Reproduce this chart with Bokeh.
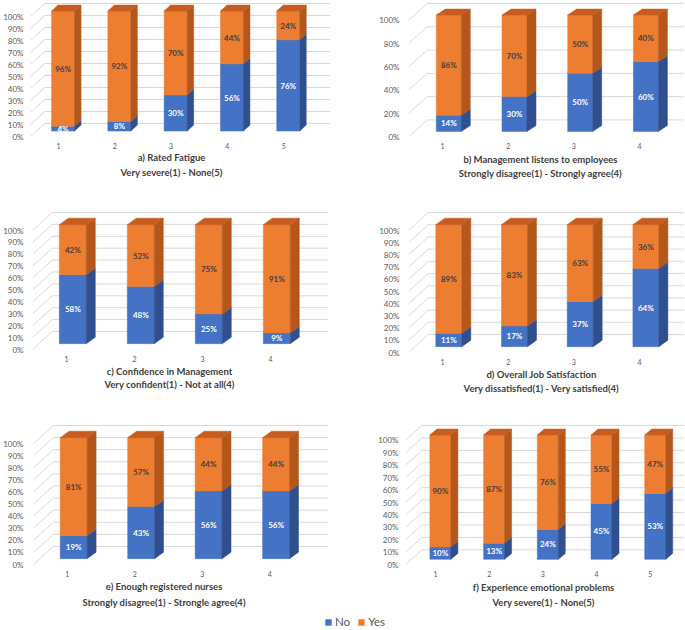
from bokeh.plotting import figure
from bokeh.models import (ColumnDataSource, FixedTicker, PrintfTickFormatter, Label,
                          Legend, LegendItem, Range1d)
from bokeh.layouts import column, row
from bokeh.embed import file_html
from bokeh.resources import INLINE
from bokeh.core.properties import value

# ---------------- data ----------------
series_names = ["No", "Yes"]

a_cats = [1, 2, 3, 4, 5]
a_no = [4, 8, 30, 56, 76]
a_yes = [96, 92, 70, 44, 24]
a_title = "a) Rated Fatigue"
a_sub = "Very severe(1) - None(5)"

b_cats = [1, 2, 3, 4]
b_no = [14, 30, 50, 60]
b_yes = [86, 70, 50, 40]
b_title = "b) Management listens to employees"
b_sub = "Strongly disagree(1) - Strongly agree(4)"

c_cats = [1, 2, 3, 4]
c_no = [58, 48, 25, 9]
c_yes = [42, 52, 75, 91]
c_title = "c) Confidence in Management"
c_sub = "Very confident(1) - Not at all(4)"

d_cats = [1, 2, 3, 4]
d_no = [11, 17, 37, 64]
d_yes = [89, 83, 63, 36]
d_title = "d) Overall Job Satisfaction"
d_sub = "Very dissatisfied(1) - Very satisfied(4)"

e_cats = [1, 2, 3, 4]
e_no = [19, 43, 56, 56]
e_yes = [81, 57, 44, 44]
e_title = "e) Enough registered nurses"
e_sub = "Strongly disagree(1) - Strongle agree(4)"

f_cats = [1, 2, 3, 4, 5]
f_no = [10, 13, 24, 45, 53]
f_yes = [90, 87, 76, 55, 47]
f_title = "f) Experience emotional problems"
f_sub = "Very severe(1) - None(5)"

y_ticks_10 = [0, 10, 20, 30, 40, 50, 60, 70, 80, 90, 100]
y_ticks_20 = [0, 20, 40, 60, 80, 100]

# ---------------- style ----------------
FONT = "Lato"
BLUE = "#4472C4"
BLUE_SIDE = "#2F4F8F"
ORANGE = "#ED7D31"
ORANGE_SIDE = "#B5561B"
ORANGE_TOP = "#C65D1E"
GRID = "#D9D9D9"
AXIS_TXT = "#595959"
TITLE_TXT = "#404040"

# geometry (pixel layout of each panel, in page pixels)
GEO = {
    "a": dict(origin=(0, 0), size=(334, 205), L=30, R=330, y0=136, y100=16, xl=58, sp=56.3,
              bw=23, bdx=6.5, bdy=6, fdy=13, ylr=23, tc=171, ty=157, sy=172),
    "b": dict(origin=(334, 0), size=(350, 205), L=408, R=684, y0=136, y100=19, xl=442, sp=65.7,
              bw=25, bdx=9, bdy=6, fdy=17, ylr=399, tc=540, ty=159, sy=173),
    "c": dict(origin=(0, 205), size=(334, 214), L=32, R=328, y0=349, y100=230, xl=66, sp=68,
              bw=27, bdx=9, bdy=6.5, fdy=18, ylr=23, tc=169, ty=371, sy=384),
    "d": dict(origin=(334, 205), size=(350, 214), L=408, R=684, y0=352, y100=230, xl=442, sp=65.7,
              bw=26, bdx=9, bdy=6.5, fdy=18, ylr=399, tc=541, ty=374, sy=388),
    "e": dict(origin=(0, 419), size=(334, 191), L=32, R=328, y0=564, y100=443, xl=66, sp=67.7,
              bw=27, bdx=9, bdy=6.5, fdy=18, ylr=22, tc=163, ty=586, sy=602),
    "f": dict(origin=(334, 419), size=(350, 191), L=405, R=684, y0=564, y100=439, xl=435, sp=53.7,
              bw=21, bdx=7, bdy=6, fdy=15, ylr=398, tc=543, ty=587, sy=602),
}


def panel(cats, no, yes, title, sub, yticks, g):
    ox, oy = g["origin"]
    fw, fh = g["size"]
    L = round(g["L"] - ox)
    R = round(min(g["R"] - ox, fw))
    y0 = g["y0"] - oy
    y100 = g["y100"] - oy
    k = (y0 - y100) / 100.0
    sp = g["sp"]
    xl = g["xl"] - ox
    fdy = g["fdy"]
    fdx = fdy * 1.1
    T = max(0, round(y100 - fdy - 2))
    B = fh
    y_start = -(B - y0) / k
    y_end = 100 + (y100 - T) / k
    x_start = 1 - (xl - L) / sp
    x_end = x_start + (R - L) / sp

    p = figure(width=fw, height=fh, x_range=Range1d(x_start, x_end),
               y_range=Range1d(y_start, y_end), output_backend="svg",
               toolbar_location=None, title=None,
               min_border_left=L, min_border_right=fw - R,
               min_border_top=T, min_border_bottom=0)
    p.xgrid.visible = False
    p.ygrid.visible = False
    p.outline_line_color = None
    p.background_fill_color = "white"
    p.border_fill_color = "white"

    # 3D-like gridlines: diagonal side wall then horizontal back wall
    gx = [[x_start, x_start + fdx / sp, x_end] for t in yticks]
    gy = [[t, t + fdy / k, t + fdy / k] for t in yticks]
    p.multi_line(gx, gy, line_color=GRID, line_width=1)

    # bars
    w = g["bw"] / sp
    ddx = g["bdx"] / sp
    ddy = g["bdy"] / k
    offx = 0.7 * ddx
    offy = 0.9 * ddy
    cx = [c + offx for c in cats]
    left = [c - w / 2 for c in cx]
    right = [c + w / 2 for c in cx]
    base = [offy for _ in cats]
    mid = [v + offy for v in no]
    top = [a + b + offy for a, b in zip(no, yes)]
    src = ColumnDataSource(dict(left=left, right=right, base=base, mid=mid, top=top))

    p.quad(left="left", right="right", bottom="base", top="mid", source=src,
           fill_color=BLUE, line_color=BLUE, line_width=0.5)
    p.quad(left="left", right="right", bottom="mid", top="top", source=src,
           fill_color=ORANGE, line_color=ORANGE, line_width=0.5)

    side_x = [[r, r + ddx, r + ddx, r] for r in right]
    p.patches(side_x, [[b, b + ddy, m + ddy, m] for b, m in zip(base, mid)],
              fill_color=BLUE_SIDE, line_color=BLUE_SIDE, line_width=0.5)
    p.patches(side_x, [[m, m + ddy, t + ddy, t] for m, t in zip(mid, top)],
              fill_color=ORANGE_SIDE, line_color=ORANGE_SIDE, line_width=0.5)
    p.patches([[l, l + ddx, r + ddx, r] for l, r in zip(left, right)],
              [[t, t + ddy, t + ddy, t] for t in top],
              fill_color=ORANGE_TOP, line_color=ORANGE_TOP, line_width=0.5)

    # data labels
    p.text(x=cx, y=[(b + m) / 2 for b, m in zip(base, mid)],
           text=[f"{v}%" for v in no], text_align="center", text_baseline="middle",
           text_font=value(FONT), text_font_style="bold", text_font_size="8px",
           text_color="white")
    p.text(x=cx, y=[(m + t) / 2 for m, t in zip(mid, top)],
           text=[f"{v}%" for v in yes], text_align="center", text_baseline="middle",
           text_font=value(FONT), text_font_style="bold", text_font_size="8px",
           text_color=TITLE_TXT)

    # axes
    p.yaxis.ticker = FixedTicker(ticks=yticks)
    p.yaxis.formatter = PrintfTickFormatter(format="%d%%")
    p.xaxis.ticker = FixedTicker(ticks=cats)
    p.xaxis.fixed_location = -3.0 / k
    for ax in (p.xaxis, p.yaxis):
        ax.axis_line_color = None
        ax.major_tick_line_color = None
        ax.minor_tick_line_color = None
        ax.major_tick_out = 0
        ax.major_tick_in = 0
        ax.major_label_text_font = FONT
        ax.major_label_text_color = AXIS_TXT
    p.yaxis.major_label_text_font_size = "8px"
    p.yaxis.major_label_standoff = max(2, round(L - (g["ylr"] - ox)))
    p.xaxis.major_label_text_font_size = "7px"
    p.xaxis.major_label_standoff = 3

    # titles under the chart
    tx = x_start + (g["tc"] - ox - L) / sp
    for txt, ty in ((title, g["ty"]), (sub, g["sy"])):
        yd = (y0 - (ty - oy)) / k
        p.add_layout(Label(x=tx, y=yd, text=txt, text_align="center",
                           text_baseline="middle", text_font=FONT,
                           text_font_size="9.5px", text_font_style="bold",
                           text_color=TITLE_TXT))
    return p


pa = panel(a_cats, a_no, a_yes, a_title, a_sub, y_ticks_10, GEO["a"])
pb = panel(b_cats, b_no, b_yes, b_title, b_sub, y_ticks_20, GEO["b"])
pc = panel(c_cats, c_no, c_yes, c_title, c_sub, y_ticks_10, GEO["c"])
pd = panel(d_cats, d_no, d_yes, d_title, d_sub, y_ticks_10, GEO["d"])
pe = panel(e_cats, e_no, e_yes, e_title, e_sub, y_ticks_10, GEO["e"])
pf = panel(f_cats, f_no, f_yes, f_title, f_sub, y_ticks_10, GEO["f"])

# legend strip
leg = figure(width=684, height=19, x_range=Range1d(0, 1), y_range=Range1d(0, 1),
             output_backend="svg", toolbar_location=None, title=None,
             x_axis_type=None, y_axis_type=None, min_border=0)
leg.xgrid.visible = False
leg.ygrid.visible = False
leg.outline_line_color = None
nan = float("nan")
r_no = leg.quad(left=[nan], right=[nan], top=[nan], bottom=[nan],
                fill_color=BLUE, line_color=None)
r_yes = leg.quad(left=[nan], right=[nan], top=[nan], bottom=[nan],
                 fill_color=ORANGE, line_color=None)
legend = Legend(items=[LegendItem(label=series_names[0], renderers=[r_no]),
                       LegendItem(label=series_names[1], renderers=[r_yes])],
                orientation="horizontal", location=(324, 1),
                border_line_color=None, background_fill_alpha=0,
                padding=0, margin=0, spacing=7, label_standoff=3,
                glyph_width=8, glyph_height=8, label_height=12, label_width=0,
                label_text_font=FONT, label_text_font_size="11.5px",
                label_text_color=AXIS_TXT)
leg.add_layout(legend)

layout = column(row(pa, pb), row(pc, pd), row(pe, pf), leg)

open("out.html", "w").write(file_html(layout, INLINE))
